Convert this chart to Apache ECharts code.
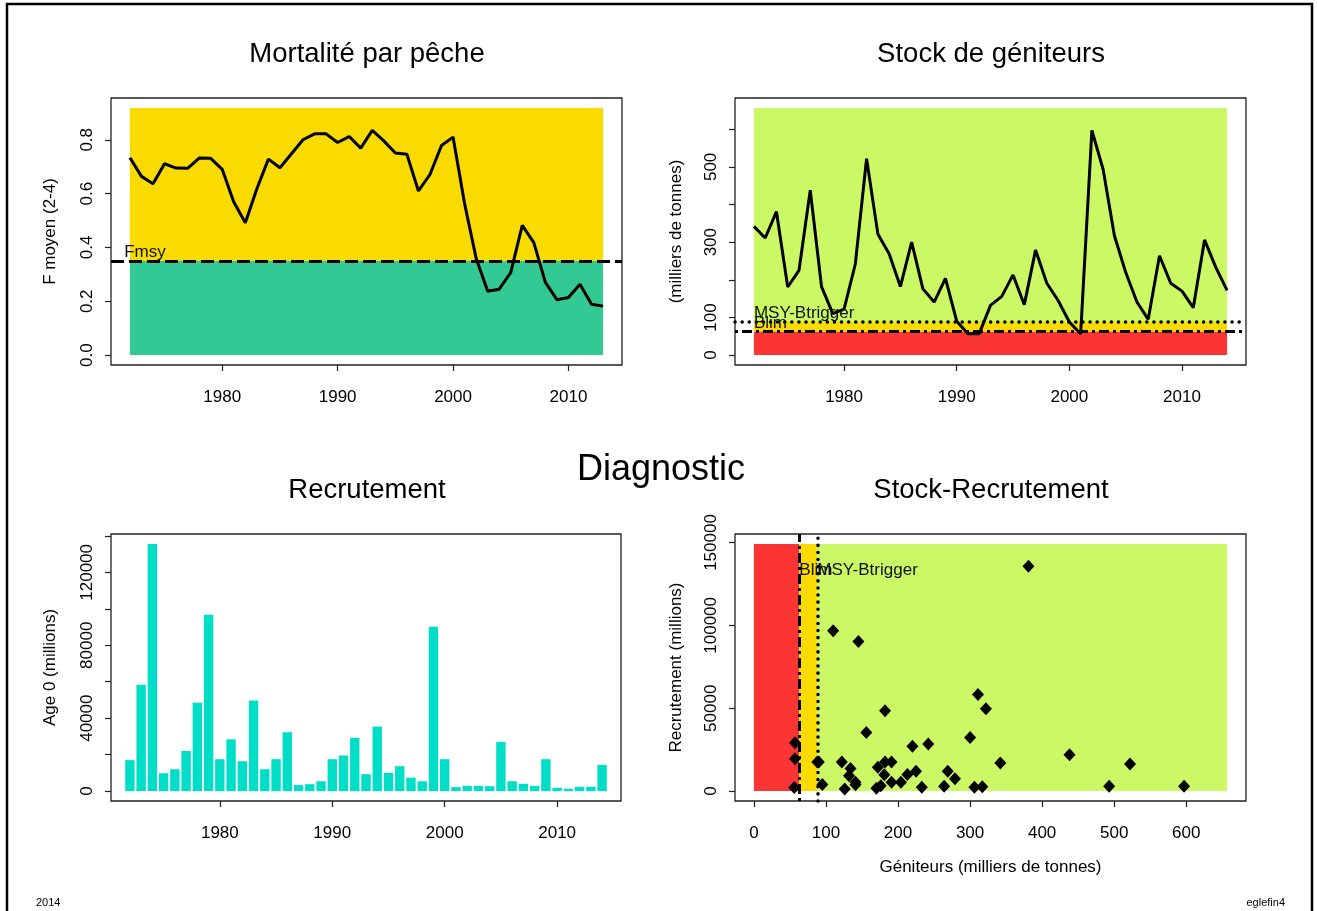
<!DOCTYPE html>
<html>
<head>
<meta charset="utf-8">
<script src="https://cdn.jsdelivr.net/npm/echarts@6/dist/echarts.min.js"></script>
<style>
html,body{margin:0;padding:0;background:#fff;}
#main{width:1317px;height:911px;}
</style>
</head>
<body>
<div id="main"></div>
<script>
// ---------------- data ----------------
const YEARS_F = [1972,1973,1974,1975,1976,1977,1978,1979,1980,1981,1982,1983,1984,1985,1986,1987,1988,1989,1990,1991,1992,1993,1994,1995,1996,1997,1998,1999,2000,2001,2002,2003,2004,2005,2006,2007,2008,2009,2010,2011,2012,2013];
const F_BAR = [0.733,0.664,0.637,0.711,0.695,0.694,0.732,0.731,0.690,0.569,0.492,0.618,0.728,0.696,0.748,0.800,0.822,0.822,0.790,0.812,0.769,0.835,0.796,0.751,0.746,0.610,0.671,0.779,0.810,0.563,0.360,0.237,0.245,0.307,0.482,0.418,0.270,0.206,0.214,0.263,0.189,0.182];
const YEARS = [1972,1973,1974,1975,1976,1977,1978,1979,1980,1981,1982,1983,1984,1985,1986,1987,1988,1989,1990,1991,1992,1993,1994,1995,1996,1997,1998,1999,2000,2001,2002,2003,2004,2005,2006,2007,2008,2009,2010,2011,2012,2013,2014];
const SSB = [342,311,381,181,225,438,182,110,122,242,522,322,269,182,300,176,141,204,90,57,57,132,156,213,134,279,191,145,88,56,597,493,317,220,141,95,264,191,170,126,306,233,172];
const RECRUIT = [17000,58300,135600,9800,12000,22000,48500,96800,17500,28400,16400,49700,12000,17500,32300,3300,3800,5400,17500,19500,29200,9300,35400,10000,13700,7400,5400,90200,17500,2200,2900,2900,2700,27000,5400,4000,2900,17500,1800,1300,2400,2400,14400];
const FMSY = 0.35;
const BLIM = 63;
const BTRIGGER = 88;
const YEAR_TICKS = [1980,1990,2000,2010];
const F_TICKS = [0,0.2,0.4,0.6,0.8];
const SSB_TICKS = [0,100,200,300,400,500,600];
const SSB_LABELS = [0,100,300,500];
const R_TICKS = [0,20000,40000,60000,80000,100000,120000,140000];
const R_LABELS = [0,40000,80000,120000];
const SR_X_TICKS = [0,100,200,300,400,500,600];
const SR_Y_TICKS = [0,50000,100000,150000];

// ---------------- helpers ----------------
const FONT = "'Liberation Sans', Arial, Helvetica, sans-serif";
const C_YELLOW = '#F9DB00', C_TEAL = '#33C995', C_LIME = '#CBF966', C_RED = '#FB3434', C_BAR = '#00DEC8';
function pad(lo, hi){ const d=(hi-lo)*0.04; return [lo-d, hi+d]; }
const fTop = 1.1*Math.max(...F_BAR);
const sTop = 1.1*Math.max(...SSB);
const rTop = 1.1*Math.max(...RECRUIT);
const rMax = Math.max(...RECRUIT);
const xF = pad(YEARS_F[0], YEARS_F[YEARS_F.length-1]);
const xY = pad(YEARS[0], YEARS[YEARS.length-1]);
const yF = pad(0, fTop);
const yS = pad(0, sTop);
const yR = pad(0, rMax);
const xSR = pad(0, sTop);
const ySR = pad(0, rTop);

const tickStyle = {show:true, length:6, lineStyle:{color:'#222', width:1.2}};
const lblStyle = {fontSize:17, color:'#000', fontFamily:FONT};
function xAx(grid, range, ticks, labels, extra){
  return Object.assign({
    type:'value', gridIndex:grid, min:range[0], max:range[1],
    axisLine:{show:false, onZero:false}, splitLine:{show:false},
    axisTick:Object.assign({customValues:ticks}, tickStyle),
    axisLabel:Object.assign({customValues:labels, margin:24, formatter:v=>String(v)}, lblStyle)
  }, extra||{});
}
function yAx(grid, range, ticks, labels, name, fmt, gap){
  return {
    type:'value', gridIndex:grid, min:range[0], max:range[1],
    axisLine:{show:false, onZero:false}, splitLine:{show:false},
    axisTick:Object.assign({customValues:ticks}, tickStyle),
    axisLabel:Object.assign({customValues:labels, margin:15, rotate:90, formatter:fmt||(v=>String(v))}, lblStyle),
    name:name, nameLocation:'middle', nameGap:gap||52,
    nameTextStyle:{fontSize:17, color:'#000', fontFamily:FONT}
  };
}
const gridBase = {show:true, borderColor:'#222', borderWidth:1.3, backgroundColor:'transparent'};
const annLabel = {show:true, fontSize:17, color:'#111', fontFamily:FONT};
const dashF = {color:'#000', width:3, type:[13,5]};
const dashDot = {color:'#000', width:3, type:[3,4,10,4]};
const dotted = {color:'#000', width:3.5, type:[0.1,7], cap:'round'};

const option = {
  animation:false,
  grid:[
    Object.assign({left:111, top:98, width:511, height:267}, gridBase),
    Object.assign({left:735, top:98, width:511, height:267}, gridBase),
    Object.assign({left:111, top:534, width:510, height:267}, gridBase),
    Object.assign({left:735, top:534, width:511, height:267}, gridBase)
  ],
  xAxis:[
    xAx(0, xF, YEAR_TICKS, YEAR_TICKS),
    xAx(1, xY, YEAR_TICKS, YEAR_TICKS),
    xAx(2, xY, YEAR_TICKS, YEAR_TICKS),
    xAx(3, xSR, SR_X_TICKS, SR_X_TICKS, {name:'Géniteurs (milliers de tonnes)', nameLocation:'middle', nameGap:58, nameTextStyle:{fontSize:17, color:'#000', fontFamily:FONT}})
  ],
  yAxis:[
    yAx(0, yF, F_TICKS, F_TICKS, 'F moyen (2-4)', v=>v.toFixed(1), 52),
    yAx(1, yS, SSB_TICKS, SSB_LABELS, '(milliers de tonnes)', null, 50),
    yAx(2, yR, R_TICKS, R_LABELS, 'Age 0 (millions)', null, 52),
    yAx(3, ySR, SR_Y_TICKS, SR_Y_TICKS, 'Recrutement (millions)', null, 50)
  ],
  series:[
    { // Fishing mortality
      type:'line', xAxisIndex:0, yAxisIndex:0, z:3,
      data:YEARS_F.map((y,i)=>[y,F_BAR[i]]),
      symbol:'none', lineStyle:{color:'#000', width:3},
      markArea:{silent:true, z:1, data:[
        [{xAxis:YEARS_F[0], yAxis:0, itemStyle:{color:C_TEAL}}, {xAxis:YEARS_F[YEARS_F.length-1], yAxis:FMSY}],
        [{xAxis:YEARS_F[0], yAxis:FMSY, itemStyle:{color:C_YELLOW}}, {xAxis:YEARS_F[YEARS_F.length-1], yAxis:fTop}]
      ]},
      markLine:{silent:true, symbol:'none', label:{show:false}, lineStyle:dashF, data:[{yAxis:FMSY}]},
      markPoint:{silent:true, symbol:'circle', symbolSize:0,
        label:Object.assign({position:'top', distance:0, align:'left', formatter:'Fmsy'}, annLabel),
        data:[{coord:[1971.5, FMSY]}]}
    },
    { // SSB
      type:'line', xAxisIndex:1, yAxisIndex:1, z:3,
      data:YEARS.map((y,i)=>[y,SSB[i]]),
      symbol:'none', lineStyle:{color:'#000', width:3},
      markArea:{silent:true, z:1, data:[
        [{xAxis:YEARS[0], yAxis:0, itemStyle:{color:C_RED}}, {xAxis:YEARS[YEARS.length-1], yAxis:BLIM}],
        [{xAxis:YEARS[0], yAxis:BLIM, itemStyle:{color:C_YELLOW}}, {xAxis:YEARS[YEARS.length-1], yAxis:BTRIGGER}],
        [{xAxis:YEARS[0], yAxis:BTRIGGER, itemStyle:{color:C_LIME}}, {xAxis:YEARS[YEARS.length-1], yAxis:sTop}]
      ]},
      markLine:{silent:true, symbol:'none', label:{show:false}, data:[
        {yAxis:BTRIGGER, lineStyle:dotted},
        {yAxis:BLIM, lineStyle:dashDot}
      ]},
      markPoint:{silent:true, symbol:'circle', symbolSize:0,
        label:Object.assign({position:'top', distance:0, align:'left'}, annLabel),
        data:[
          {coord:[YEARS[0], BTRIGGER], label:{formatter:'MSY-Btrigger'}},
          {coord:[YEARS[0], BLIM], label:{formatter:'Blim'}}
        ]}
    },
    { // Recruitment bars
      type:'bar', xAxisIndex:2, yAxisIndex:2,
      data:YEARS.map((y,i)=>[y,RECRUIT[i]]),
      barWidth:9.4, itemStyle:{color:C_BAR}
    },
    { // Stock-recruitment
      type:'scatter', xAxisIndex:3, yAxisIndex:3, z:6,
      data:YEARS.map((y,i)=>[SSB[i],RECRUIT[i]]),
      symbol:'diamond', symbolSize:[12,13], itemStyle:{color:'#000', opacity:1},
      markArea:{silent:true, z:1, data:[
        [{xAxis:0, yAxis:0, itemStyle:{color:C_RED}}, {xAxis:BLIM, yAxis:rTop}],
        [{xAxis:BLIM, yAxis:0, itemStyle:{color:C_YELLOW}}, {xAxis:BTRIGGER, yAxis:rTop}],
        [{xAxis:BTRIGGER, yAxis:0, itemStyle:{color:C_LIME}}, {xAxis:sTop, yAxis:rTop}]
      ]},
      markLine:{silent:true, symbol:'none', label:{show:false}, data:[
        {xAxis:BLIM, lineStyle:dashDot},
        {xAxis:BTRIGGER, lineStyle:dotted}
      ]},
      markPoint:{silent:true, symbol:'circle', symbolSize:0,
        label:Object.assign({position:'right', distance:0, offset:[0,4]}, annLabel),
        data:[
          {coord:[BLIM, rMax], label:{formatter:'Blim'}},
          {coord:[BTRIGGER, rMax], label:{formatter:'MSY-Btrigger'}}
        ]}
    }
  ],
  graphic:[
    {type:'rect', silent:true, shape:{x:7, y:4, width:1305, height:930}, style:{fill:'none', stroke:'#000', lineWidth:2.5}},
    {type:'text', silent:true, x:367, y:54, style:{text:'Mortalité par pêche', fontSize:27.5, fontFamily:FONT, fill:'#000', align:'center', verticalAlign:'middle'}},
    {type:'text', silent:true, x:991, y:54, style:{text:'Stock de géniteurs', fontSize:27.5, fontFamily:FONT, fill:'#000', align:'center', verticalAlign:'middle'}},
    {type:'text', silent:true, x:367, y:490, style:{text:'Recrutement', fontSize:27.5, fontFamily:FONT, fill:'#000', align:'center', verticalAlign:'middle'}},
    {type:'text', silent:true, x:991, y:490, style:{text:'Stock-Recrutement', fontSize:27.5, fontFamily:FONT, fill:'#000', align:'center', verticalAlign:'middle'}},
    {type:'text', silent:true, x:661, y:470, style:{text:'Diagnostic', fontSize:36, fontFamily:FONT, fill:'#000', align:'center', verticalAlign:'middle'}},
    {type:'text', silent:true, x:36, y:903, style:{text:'2014', fontSize:11, fontFamily:FONT, fill:'#000', align:'left', verticalAlign:'middle'}},
    {type:'text', silent:true, x:1285, y:903, style:{text:'eglefin4', fontSize:11, fontFamily:FONT, fill:'#000', align:'right', verticalAlign:'middle'}}
  ]
};
const chart = echarts.init(document.getElementById('main'), null, {renderer:'canvas'});
chart.setOption(option);
</script>
</body>
</html>
